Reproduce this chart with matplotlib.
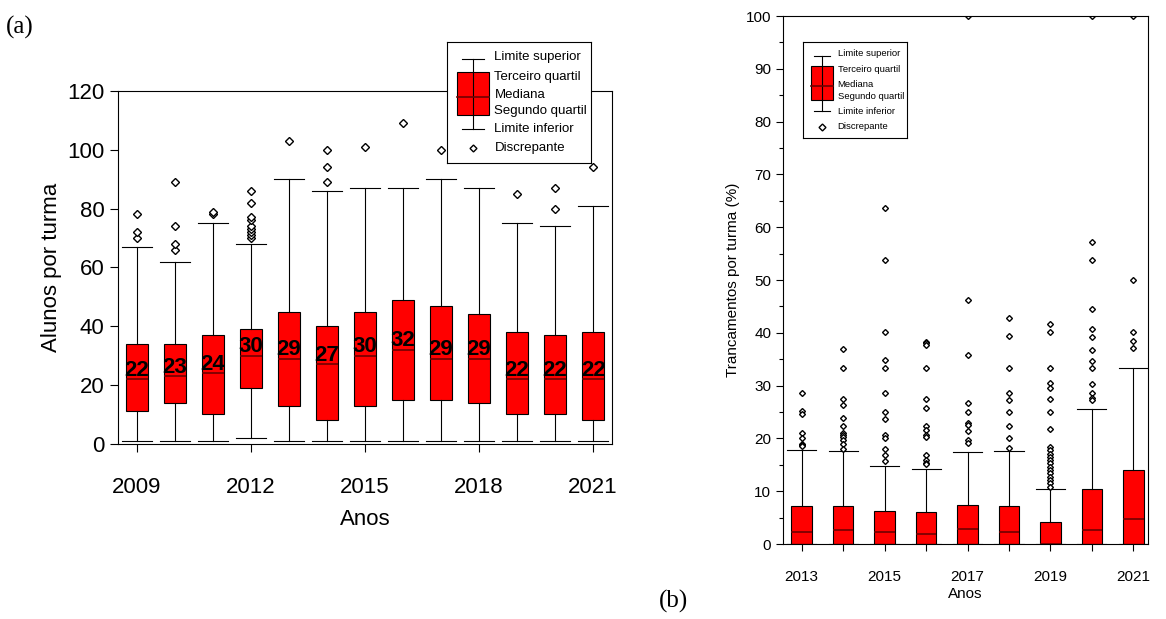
import matplotlib
matplotlib.use('Agg')
import matplotlib.pyplot as plt
from matplotlib.patches import Rectangle

plt.rcParams['font.family'] = ['Liberation Sans', 'DejaVu Sans']

# (a) students per class
anos_a = list(range(2009, 2022))
lo_a = [1, 1, 1, 2, 1, 1, 1, 1, 1, 1, 1, 1, 1]
q1_a = [11, 14, 10, 19, 13, 8, 13, 15, 15, 14, 10, 10, 8]
med_a = [22, 23, 24, 30, 29, 27, 30, 32, 29, 29, 22, 22, 22]
q3_a = [34, 34, 37, 39, 45, 40, 45, 49, 47, 44, 38, 37, 38]
hi_a = [67, 62, 75, 68, 90, 86, 87, 87, 90, 87, 75, 74, 81]
out_a = [[70, 72, 78], [66, 68, 74, 89], [78, 79],
         [70, 71, 72, 73, 74, 76, 77, 82, 86], [103], [89, 94, 100], [101],
         [109], [100], [], [85], [80, 87], [94]]

# (b) dropouts per class (%)
anos_b = list(range(2013, 2022))
lo_b = [0] * 9
q1_b = [0] * 9
med_b = [2.3, 2.6, 2.3, 2.0, 2.8, 2.2, 0.0, 2.65, 4.7]
q3_b = [7.2, 7.2, 6.25, 6.0, 7.5, 7.2, 4.2, 10.5, 14.0]
hi_b = [17.9, 17.7, 14.7, 14.3, 17.5, 17.7, 10.4, 25.6, 33.4]
out_b = [[28.7, 25.2, 24.6, 21, 20, 19, 18.75, 18.5],
         [36.9, 33.4, 27.5, 26.3, 23.9, 22.3, 21, 20.6, 20.3, 19.8, 19, 18.1],
         [63.6, 53.8, 40.1, 34.8, 33.4, 28.7, 25.1, 23.7, 20.6, 20, 18.1, 16.9, 15.8],
         [38.3, 38, 37.7, 33.4, 27.5, 25.7, 22.3, 21.7, 20.6, 20.3, 16.9, 15.9, 15.4, 15.1],
         [100, 46.2, 35.8, 26.8, 25.1, 23, 22.5, 21.5, 19.7, 19.2],
         [42.9, 39.5, 33.4, 28.7, 27.3, 25.1, 22.3, 20.1, 18.2],
         [41.7, 40.1, 33.4, 30.6, 29.5, 27.5, 25.1, 21.8, 18.4, 17.8, 17.1, 16.5,
          15.9, 15.3, 14.6, 14.0, 13.4, 12.8, 12.1, 11.5, 10.9],
         [100, 57.2, 53.8, 44.5, 40.7, 39.3, 36.7, 34.7, 33.4, 30.3, 28.7, 27.6, 27.3],
         [100, 50, 40.1, 38.5, 37.2]]


def stats(lo, q1, med, q3, hi, out):
    return [dict(whislo=a, q1=b, med=c, q3=d, whishi=e, fliers=f)
            for a, b, c, d, e, f in zip(lo, q1, med, q3, hi, out)]


def draw(ax, st, pos, width, capw, ms):
    ax.bxp(st, positions=pos, widths=width, capwidths=capw, patch_artist=True,
           boxprops=dict(facecolor='red', edgecolor='black', linewidth=0.8),
           medianprops=dict(color='#700000', linewidth=1.2),
           whiskerprops=dict(color='black', linewidth=0.8),
           capprops=dict(color='black', linewidth=0.8),
           flierprops=dict(marker='D', markersize=ms, markerfacecolor='white',
                           markeredgecolor='black', markeredgewidth=1.0))


def legend(fig, rect, fs):
    lg = fig.add_axes(rect)
    lg.set_xlim(0, 1)
    lg.set_ylim(0, 1)
    lg.set_xticks([])
    lg.set_yticks([])
    lg.set_zorder(5)
    lg.plot([0.18, 0.18], [0.86, 0.28], color='black', lw=0.8)
    lg.plot([0.1, 0.26], [0.86, 0.86], color='black', lw=0.8)
    lg.plot([0.1, 0.26], [0.28, 0.28], color='black', lw=0.8)
    lg.add_patch(Rectangle((0.07, 0.4), 0.22, 0.35, facecolor='red',
                           edgecolor='black', lw=0.8))
    lg.plot([0.07, 0.29], [0.545, 0.545], color='#700000', lw=1.2)
    lg.plot([0.18], [0.12], marker='D', ms=3.5, mfc='white', mec='black')
    labels = ['Limite superior', 'Terceiro quartil', 'Mediana',
              'Segundo quartil', 'Limite inferior', 'Discrepante']
    ys = [0.88, 0.71, 0.56, 0.43, 0.28, 0.12]
    for t, y in zip(labels, ys):
        lg.text(0.33, y, t, fontsize=fs, va='center')


fig = plt.figure(figsize=(11.66, 6.19), dpi=100)

ax1 = fig.add_axes([0.101, 0.283, 0.424, 0.570])
draw(ax1, stats(lo_a, q1_a, med_a, q3_a, hi_a, out_a), anos_a, 0.58, 0.8, 4)
for x, m in zip(anos_a, med_a):
    ax1.text(x, m + 3, str(m), ha='center', va='center', fontsize=16,
             fontweight='bold')
ax1.set_xlim(2008.5, 2021.5)
ax1.set_ylim(0, 120)
ax1.set_yticks(range(0, 121, 20))
ax1.set_xticks([2009, 2012, 2015, 2018, 2021])
ax1.set_xticklabels([2009, 2012, 2015, 2018, 2021])
ax1.tick_params(labelsize=16, length=6, width=0.8)
ax1.tick_params(axis='x', pad=18)
ax1.set_xlabel('Anos', fontsize=16, labelpad=8)
ax1.set_ylabel('Alunos por turma', fontsize=16)
legend(fig, [0.3835, 0.737, 0.123, 0.195], 9.5)

ax2 = fig.add_axes([0.6715, 0.121, 0.313, 0.853])
draw(ax2, stats(lo_b, q1_b, med_b, q3_b, hi_b, out_b), anos_b, 0.5, 0.7, 3)
ax2.set_xlim(2012.55, 2021.35)
ax2.set_ylim(0, 100)
ax2.set_yticks(range(0, 101, 10))
ax2.set_yticks(range(5, 100, 10), minor=True)
ax2.set_xticks(anos_b)
ax2.set_xticklabels([str(a) if a % 2 == 1 else '' for a in anos_b])
ax2.tick_params(labelsize=11, length=5, width=0.8)
ax2.tick_params(which='minor', length=3, width=0.8)
ax2.tick_params(axis='x', pad=14)
ax2.set_xlabel('Anos', fontsize=11, labelpad=2)
ax2.set_ylabel('Trancamentos por turma (%)', fontsize=11)
legend(fig, [0.689, 0.777, 0.089, 0.155], 6.8)

fig.text(0.005, 0.955, '(a)', fontsize=18, family='Liberation Serif', va='center')
fig.text(0.565, 0.028, '(b)', fontsize=18, family='Liberation Serif', va='center')

fig.savefig('out.png', dpi=100)
